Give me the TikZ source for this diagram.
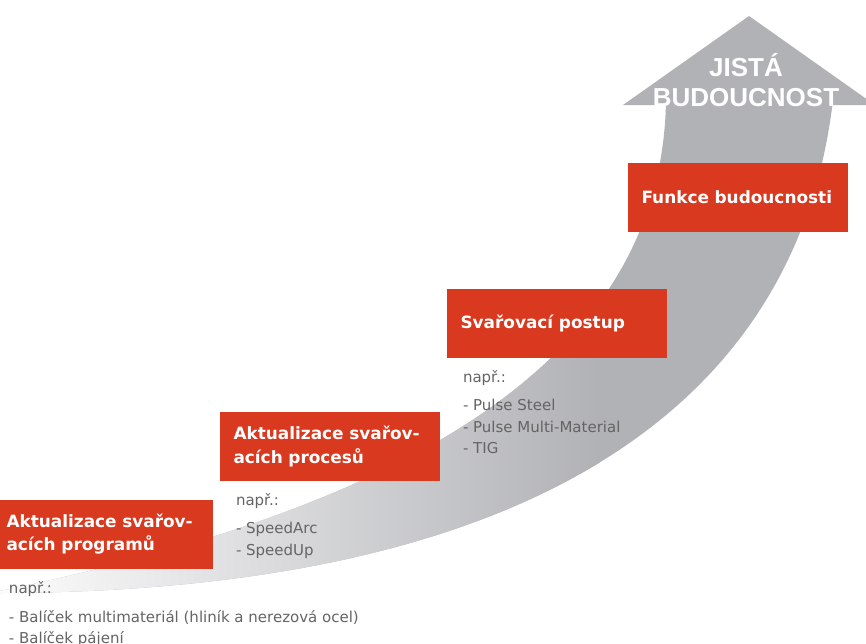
\documentclass[tikz,border=0pt]{standalone}
\usepackage{fontspec}
\setmainfont{DejaVu Sans}
\newfontfamily\headfont{Liberation Sans}
\definecolor{boxred}{HTML}{D8391F}
\definecolor{arrowgray}{HTML}{B1B2B6}
\definecolor{notegray}{HTML}{646464}
\tikzset{
  stage/.style={fill=boxred,text=white,font=\fontsize{16.9}{23.5}\selectfont\bfseries,
    text width=193pt,inner xsep=13.5pt,inner ysep=0pt,minimum height=69pt,align=left},
  note/.style={text=notegray,font=\fontsize{15}{21.5}\selectfont,inner sep=0pt,align=left,anchor=north west},
  headline/.style={text=white,font=\headfont\bfseries\fontsize{26}{30}\selectfont,inner sep=0pt,align=center}
}

\begin{document}
\begin{tikzpicture}[x=1pt,y=-1pt]
  \useasboundingbox (0,0) rectangle (866,643);
  \coordinate (tail) at (-10,593);
  \coordinate (outer) at (833,100);
  \coordinate (inner) at (666,100);
  % curved band, fading in from the left
  \begin{scope}
    \clip (tail) .. controls (540,594) and (798,400) .. (outer)
      -- (inner) .. controls (662,365) and (400,510) .. (tail) -- cycle;
    \fill[arrowgray] (0,0) rectangle (866,643);
    \shade[left color=white,right color=arrowgray] (-20,0) rectangle (600,643);
  \end{scope}
  % arrow head
  \fill[arrowgray] (623,105) -- (749,16) -- (875,105) -- cycle;
  \node[headline] (goal) at (746,80) {JISTÁ\\BUDOUCNOST};

  % stages
  \node[stage] (prog) at (103,534) {Aktualizace svařov-\\acích programů};
  \node[stage] (proc) at (330,446.5) {Aktualizace svařov-\\acích procesů};
  \node[stage] (post) at (557,323.5) {Svařovací postup};
  \node[stage] (func) at (738,197.5) {Funkce budoucnosti};

  % examples
  \node[note] (progex) at ([xshift=16pt,yshift=-13pt]prog.south west) {např.:\\[7pt]- Balíček multimateriál (hliník a nerezová ocel)\\- Balíček pájení};
  \node[note] (procex) at ([xshift=16pt,yshift=-12pt]proc.south west) {např.:\\[7pt]- SpeedArc\\- SpeedUp};
  \node[note] (postex) at ([xshift=16pt,yshift=-12pt]post.south west) {např.:\\[7pt]- Pulse Steel\\- Pulse Multi-Material\\- TIG};
\end{tikzpicture}
\end{document}
